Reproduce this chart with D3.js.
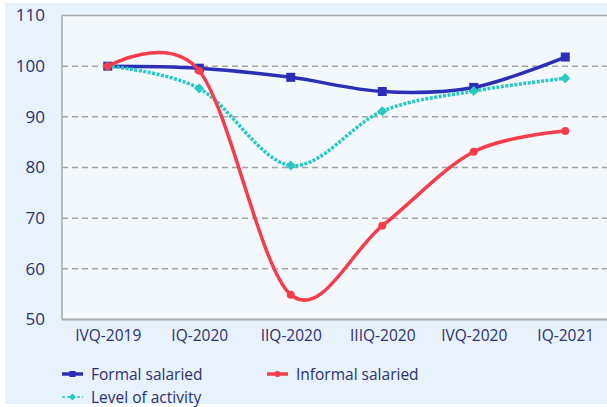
<!DOCTYPE html>
<html><head><meta charset="utf-8">
<script src="https://cdn.jsdelivr.net/npm/d3@7"></script>
<style>
html,body{margin:0;padding:0;background:#fff;}
svg{display:block;}
</style></head>
<body>
<svg id="chart" width="607" height="407"></svg>
<script>
const categories = ["IVQ-2019","IQ-2020","IIQ-2020","IIIQ-2020","IVQ-2020","IQ-2021"];
const formalSalaried = [100, 99.6, 97.8, 95.0, 95.8, 101.8];
const informalSalaried = [100, 99.1, 54.9, 68.5, 83.1, 87.2];
const levelOfActivity = [100, 95.6, 80.4, 91.1, 95.1, 97.6];
const yTicks = [50, 60, 70, 80, 90, 100, 110];
const gridValues = [60, 70, 80, 90, 100];

const series = [
  {name: "Formal salaried", values: formalSalaried, color: "#2a2fb5", marker: "square", dash: null, width: 3.5},
  {name: "Informal salaried", values: informalSalaried, color: "#f63d4c", marker: "circle", dash: null, width: 3.5},
  {name: "Level of activity", values: levelOfActivity, color: "#27c9c4", marker: "diamond", dash: "3,1.5", width: 3.5}
];

const svg = d3.select("#chart");
const W = 607, H = 407;
const textColor = "#2b3070";

// outer background
svg.append("rect").attr("x", 5).attr("y", 3).attr("width", W - 5).attr("height", 401).attr("fill", "#e8f2fc");

const plot = {left: 62, top: 16, right: 611, bottom: 320};
svg.append("rect").attr("x", plot.left).attr("y", plot.top)
  .attr("width", plot.right - plot.left).attr("height", plot.bottom - plot.top)
  .attr("fill", "#f3f8fd");

const x = d3.scalePoint().domain(categories).range([plot.left, plot.right]).padding(0.5);
const y = d3.scaleLinear().domain([50, 110]).range([plot.bottom - 0.5, plot.top - 0.5]);

// grid
svg.append("g").selectAll("line").data(gridValues).join("line")
  .attr("x1", plot.left).attr("x2", plot.right)
  .attr("y1", d => y(d)).attr("y2", d => y(d))
  .attr("stroke", "#a3a3a3").attr("stroke-width", 1.5).attr("stroke-dasharray", "6,4");

// border lines: top, left, bottom
svg.append("line").attr("x1", plot.left).attr("x2", plot.right).attr("y1", y(110)).attr("y2", y(110))
  .attr("stroke", "#a8a8a8").attr("stroke-width", 1.5);
svg.append("line").attr("x1", plot.left).attr("x2", plot.left).attr("y1", y(110)).attr("y2", y(50))
  .attr("stroke", "#a8a8a8").attr("stroke-width", 1.5);
svg.append("line").attr("x1", plot.left).attr("x2", plot.right).attr("y1", y(50)).attr("y2", y(50))
  .attr("stroke", "#a8a8a8").attr("stroke-width", 2);

// y axis labels
const yAxis = d3.axisLeft(y).tickValues(yTicks).tickSize(0).tickPadding(17);
const gy = svg.append("g").attr("transform", `translate(${plot.left},0)`).call(yAxis);
gy.select(".domain").remove();
gy.selectAll("text").attr("font-family", "Open Sans").attr("font-size", 17).attr("fill", textColor);

// x axis labels
const xAxis = d3.axisBottom(x).tickSize(0).tickPadding(10);
const gx = svg.append("g").attr("transform", `translate(0,${plot.bottom})`).call(xAxis);
gx.select(".domain").remove();
gx.selectAll("text").attr("font-family", "Open Sans").attr("font-size", 15.5).attr("fill", textColor);

const line = d3.line().x((d, i) => x(categories[i])).y(d => y(d)).curve(d3.curveCatmullRom.alpha(0));

function drawMarker(g, type, cx, cy, color, s) {
  if (type === "square") {
    g.append("rect").attr("x", cx - s/2).attr("y", cy - s/2).attr("width", s).attr("height", s).attr("fill", color);
  } else if (type === "circle") {
    g.append("circle").attr("cx", cx).attr("cy", cy).attr("r", s/2).attr("fill", color);
  } else {
    const r = s / 2 + 1;
    g.append("path").attr("d", `M${cx},${cy - r}L${cx + r},${cy}L${cx},${cy + r}L${cx - r},${cy}Z`).attr("fill", color);
  }
}

const order = [0, 2, 1];
order.forEach(k => {
  const s = series[k];
  const g = svg.append("g");
  g.append("path").datum(s.values).attr("d", line).attr("fill", "none")
    .attr("stroke", s.color).attr("stroke-width", s.width)
    .attr("stroke-dasharray", s.dash).attr("stroke-linejoin", "round");
  s.values.forEach((v, i) => drawMarker(g, s.marker, x(categories[i]), y(v), s.color, s.marker === "square" ? 9 : 8));
});

// legend
const legendItems = [
  {s: series[0], lx: 62, ly: 374},
  {s: series[1], lx: 267, ly: 374},
  {s: series[2], lx: 62, ly: 397}
];
legendItems.forEach(it => {
  const g = svg.append("g");
  g.append("line").attr("x1", it.lx).attr("x2", it.lx + 21).attr("y1", it.ly).attr("y2", it.ly)
    .attr("stroke", it.s.color).attr("stroke-width", it.s.marker === "diamond" ? 1.5 : 3.5)
    .attr("stroke-dasharray", it.s.marker === "diamond" ? "3,2" : null);
  drawMarker(g, it.s.marker, it.lx + 10.5, it.ly, it.s.color, it.s.marker === "diamond" ? 5 : 6);
  g.append("text").attr("x", it.lx + 29).attr("y", it.ly + 5.5)
    .attr("font-family", "Open Sans").attr("font-size", 15.5).attr("fill", textColor).text(it.s.name);
});
</script>
</body></html>
